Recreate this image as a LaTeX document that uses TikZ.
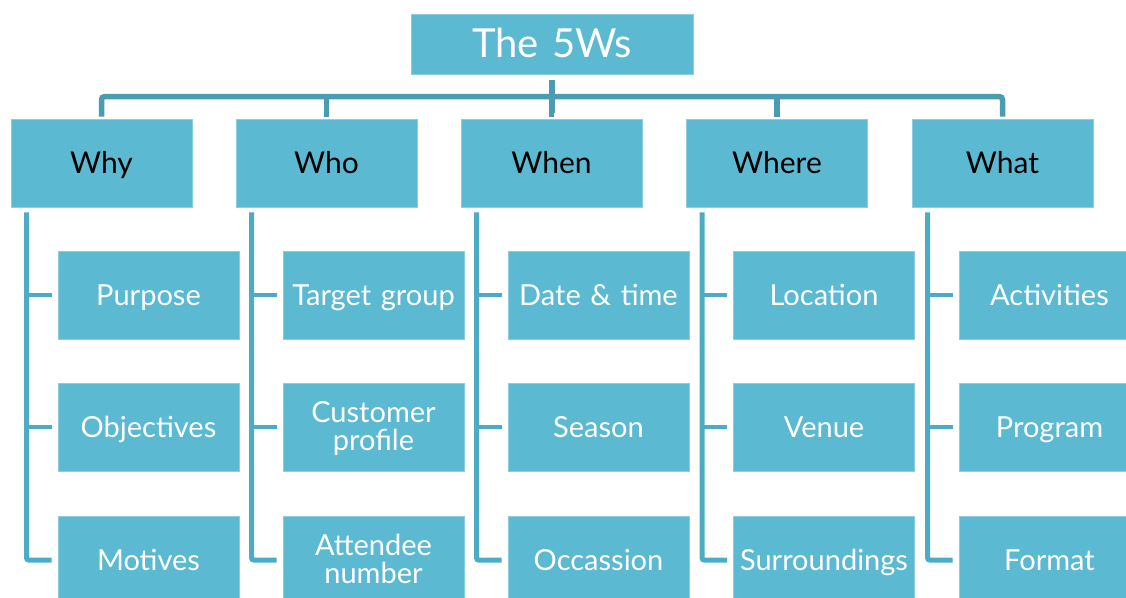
\documentclass[tikz,border=0pt]{standalone}
\usepackage{fontspec}
\setmainfont{Lato}
\definecolor{boxfill}{RGB}{91,185,209}
\definecolor{boxedge}{RGB}{140,205,224}
\definecolor{busline}{RGB}{74,156,177}
\definecolor{trunkline}{RGB}{76,172,198}
\begin{document}
\begin{tikzpicture}[x=1pt,y=-1pt,
  box/.style={draw=boxedge, line width=0.8pt, fill=boxfill, minimum width=181pt, minimum height=88pt, inner sep=0pt, align=center, text width=181pt},
  topbox/.style={box, minimum width=282pt, text width=282pt, minimum height=60pt, text=white, font=\fontsize{40}{42}\selectfont, text height=30pt, text depth=4pt},
  lvltwo/.style={box, text=black, font=\fontsize{30}{32}\selectfont, text height=24pt, text depth=4pt},
  lvlthree/.style={box, text=white, font=\fontsize{29}{28.5}\selectfont, text height=24pt, text depth=4pt},
  twoline/.style={text height=24pt, text depth=34pt},
  bus/.style={draw=busline, line width=5.5pt, rounded corners=3pt},
  trunk/.style={draw=trunkline, line width=5pt, rounded corners=2pt},
  branch/.style={draw=trunkline, line width=4.5pt}]
\useasboundingbox (0,0) rectangle (1126,597);

\node[topbox] (top) at (552,44) {The 5Ws};

\node[lvltwo] (why)   at (101.5,163) {Why};
\node[lvltwo] (who)   at (326.5,163) {Who};
\node[lvltwo] (when)  at (551.5,163) {When};
\node[lvltwo] (where) at (777,163) {Where};
\node[lvltwo] (what)  at (1002.5,163) {What};

\node[lvlthree] (purpose)    at (148.5,295) {Purpose};
\node[lvlthree] (objectives) at (148.5,427) {Objectives};
\node[lvlthree] (motives)    at (148.5,560) {Motives};

\node[lvlthree] (target)     at (373.5,295) {Target group};
\node[lvlthree, twoline] (customer)   at (373.5,427) {Customer\\profile};
\node[lvlthree, twoline] (attendee)   at (373.5,560) {Attendee\\number};

\node[lvlthree] (date)       at (598.5,295) {Date \& time};
\node[lvlthree] (season)     at (598.5,427) {Season};
\node[lvlthree] (occassion)  at (598.5,560) {Occassion};

\node[lvlthree] (location)   at (824,295) {Location};
\node[lvlthree] (venue)      at (824,427) {Venue};
\node[lvlthree] (surround)   at (824,560) {Surroundings};

\node[lvlthree] (activities) at (1049.5,295) {Activities};
\node[lvlthree] (program)    at (1049.5,427) {Program};
\node[lvlthree] (format)     at (1049.5,560) {Format};

% bus
\draw[bus] ([yshift=2pt]why.north) -- ++(0,-20) -| ([yshift=2pt]what.north);
\draw[bus] ([yshift=2pt]who.north) -- ++(0,-20);
\draw[bus] ([yshift=2pt]when.north) -- ++(0,-20);
\draw[bus] ([yshift=2pt]where.north) -- ++(0,-20);
\draw[bus] ([yshift=-6pt]top.south) -- ++(0,33);

% trunks
\foreach \p/\a/\b/\c in {why/purpose/objectives/motives, who/target/customer/attendee, when/date/season/occassion, where/location/venue/surround, what/activities/program/format}{
  \coordinate (\p T) at ([xshift=16pt,yshift=-5pt]\p.south west);
  \draw[trunk] (\p T) |- ([xshift=-6pt]\c.west);
  \draw[branch] (\p T |- \a.west) -- ([xshift=-6pt]\a.west);
  \draw[branch] (\p T |- \b.west) -- ([xshift=-6pt]\b.west);
}
\end{tikzpicture}
\end{document}
